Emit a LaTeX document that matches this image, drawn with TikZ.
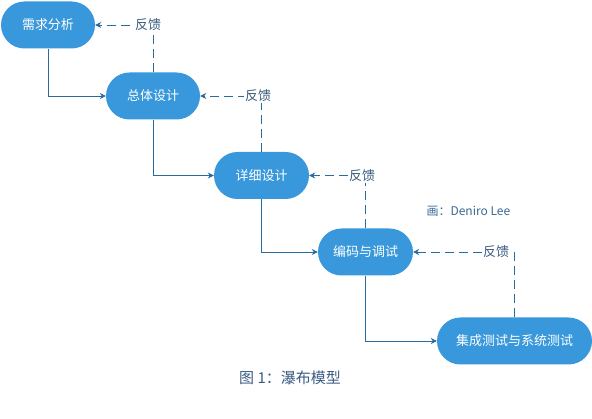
\documentclass[tikz,border=0pt]{standalone}
\usepackage{fontspec}
\setmainfont{Noto Sans CJK SC}
\usetikzlibrary{arrows.meta}
\definecolor{nodeblue}{HTML}{3898DB}
\definecolor{linecol}{HTML}{2A6B9E}
\definecolor{txtcol}{HTML}{3A5C80}
\tikzset{
  phase/.style={fill=nodeblue, draw=none, rounded corners=23.5pt, minimum height=47pt, inner sep=0pt, text=white, font=\fontsize{13}{13}\selectfont},
  flow/.style={draw=linecol, line width=0.9pt, -{Stealth[length=6pt,width=6pt]}},
  fb/.style={draw=linecol, line width=0.9pt, dash pattern=on 9pt off 5pt, -{Stealth[length=6pt,width=6pt]}},
  fbtxt/.style={fill=white, inner sep=1pt, text=txtcol, font=\fontsize{13}{13}\selectfont}
}
\begin{document}
\begin{tikzpicture}[x=1pt,y=-1pt]
\useasboundingbox (0,0) rectangle (592,419);
\node[phase, minimum width=94pt] (n1) at (48,25) {需求分析};
\node[phase, minimum width=94pt] (n2) at (153,96) {总体设计};
\node[phase, minimum width=95pt] (n3) at (261.5,175.5) {详细设计};
\node[phase, minimum width=95pt] (n4) at (365.5,252) {编码与调试};
\node[phase, minimum width=155pt] (n5) at (514.5,341) {集成测试与系统测试};
% forward flow
\draw[flow] (n1.south) |- (n2.west);
\draw[flow] (n2.south) |- (n3.west);
\draw[flow] (n3.south) |- (n4.west);
\draw[flow] (n4.south) |- (n5.west);
% feedback
\coordinate (c1) at (n2.north |- n1.east);
\coordinate (c2) at (n3.north |- n2.east);
\coordinate (c3) at (n4.north |- n3.east);
\coordinate (c4) at (n5.north |- n4.east);
\draw[fb] (n2.north) -- (c1) -- (n1.east);
\draw[fb] (n3.north) -- (c2) -- (n2.east);
\draw[fb] (n4.north) -- (c3) -- (n3.east);
\draw[fb] (n5.north) -- (c4) -- (n4.east);
\node[fbtxt] (t1) at (148,25) {反馈};
\node[fbtxt] (t2) at (258,96) {反馈};
\node[fbtxt] (t3) at (362,176) {反馈};
\node[fbtxt] (t4) at (496,252) {反馈};
\node[text=txtcol!80!nodeblue, font=\fontsize{12}{12}\selectfont, anchor=west] (credit) at (423,211) {画：Deniro Lee};
\node[text=txtcol, font=\fontsize{15}{15}\selectfont] (cap) at (290,378) {图 1：瀑布模型};
\end{tikzpicture}
\end{document}
